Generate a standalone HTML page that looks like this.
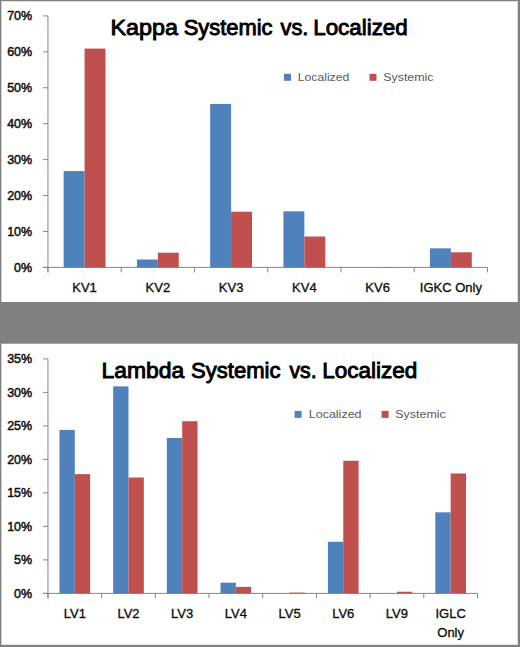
<!DOCTYPE html>
<html><head><meta charset="utf-8"><style>
html,body{margin:0;padding:0;background:#fff;}
body{width:520px;height:647px;overflow:hidden;position:relative;}
svg{position:absolute;left:0;top:0;}
text{font-family:"Liberation Sans",sans-serif;}
.lab{font-size:13px;font-weight:normal;fill:#111;stroke:#111;stroke-width:0.35px;}
.ylab{stroke-width:0.5px;}
.leg{font-size:11.5px;fill:#595959;}
.ttl{font-size:22px;font-weight:normal;fill:#000;stroke:#000;stroke-width:0.9px;}
</style></head><body>
<svg width="520" height="647" viewBox="0 0 520 647">
<rect x="0" y="0" width="520" height="647" fill="#fff"/>
<g>
<line x1="47.95" y1="15.9" x2="47.95" y2="272.4" stroke="#868686" stroke-width="1"/>
<line x1="42.95" y1="267.4" x2="47.95" y2="267.4" stroke="#868686" stroke-width="1"/>
<text transform="translate(32.1,271.7) scale(0.96,1)" text-anchor="end" class="lab ylab">0%</text>
<line x1="42.95" y1="231.47" x2="47.95" y2="231.47" stroke="#868686" stroke-width="1"/>
<text transform="translate(32.1,235.77) scale(0.96,1)" text-anchor="end" class="lab ylab">10%</text>
<line x1="42.95" y1="195.54" x2="47.95" y2="195.54" stroke="#868686" stroke-width="1"/>
<text transform="translate(32.1,199.84) scale(0.96,1)" text-anchor="end" class="lab ylab">20%</text>
<line x1="42.95" y1="159.61" x2="47.95" y2="159.61" stroke="#868686" stroke-width="1"/>
<text transform="translate(32.1,163.91) scale(0.96,1)" text-anchor="end" class="lab ylab">30%</text>
<line x1="42.95" y1="123.69" x2="47.95" y2="123.69" stroke="#868686" stroke-width="1"/>
<text transform="translate(32.1,127.99) scale(0.96,1)" text-anchor="end" class="lab ylab">40%</text>
<line x1="42.95" y1="87.76" x2="47.95" y2="87.76" stroke="#868686" stroke-width="1"/>
<text transform="translate(32.1,92.06) scale(0.96,1)" text-anchor="end" class="lab ylab">50%</text>
<line x1="42.95" y1="51.83" x2="47.95" y2="51.83" stroke="#868686" stroke-width="1"/>
<text transform="translate(32.1,56.13) scale(0.96,1)" text-anchor="end" class="lab ylab">60%</text>
<line x1="42.95" y1="15.9" x2="47.95" y2="15.9" stroke="#868686" stroke-width="1"/>
<text transform="translate(32.1,20.2) scale(0.96,1)" text-anchor="end" class="lab ylab">70%</text>
<line x1="42.95" y1="267.4" x2="487.5" y2="267.4" stroke="#868686" stroke-width="1"/>
<line x1="47.95" y1="267.4" x2="47.95" y2="272.4" stroke="#868686" stroke-width="1"/>
<line x1="121.21" y1="267.4" x2="121.21" y2="272.4" stroke="#868686" stroke-width="1"/>
<line x1="194.47" y1="267.4" x2="194.47" y2="272.4" stroke="#868686" stroke-width="1"/>
<line x1="267.73" y1="267.4" x2="267.73" y2="272.4" stroke="#868686" stroke-width="1"/>
<line x1="340.98" y1="267.4" x2="340.98" y2="272.4" stroke="#868686" stroke-width="1"/>
<line x1="414.24" y1="267.4" x2="414.24" y2="272.4" stroke="#868686" stroke-width="1"/>
<line x1="487.5" y1="267.4" x2="487.5" y2="272.4" stroke="#868686" stroke-width="1"/>
<rect x="63.65" y="171.11" width="20.93" height="96.29" fill="#4F81BD"/>
<rect x="84.58" y="48.59" width="20.93" height="218.8" fill="#C0504D"/>
<rect x="136.91" y="259.5" width="20.93" height="7.9" fill="#4F81BD"/>
<rect x="157.84" y="252.67" width="20.93" height="14.73" fill="#C0504D"/>
<rect x="210.16" y="103.92" width="20.93" height="163.47" fill="#4F81BD"/>
<rect x="231.1" y="211.71" width="20.93" height="55.69" fill="#C0504D"/>
<rect x="283.42" y="211.35" width="20.93" height="56.05" fill="#4F81BD"/>
<rect x="304.35" y="236.5" width="20.93" height="30.9" fill="#C0504D"/>
<rect x="377.61" y="267.04" width="20.93" height="0.36" fill="#C0504D"/>
<rect x="429.94" y="248.36" width="20.93" height="19.04" fill="#4F81BD"/>
<rect x="450.87" y="252.31" width="20.93" height="15.09" fill="#C0504D"/>
<text x="84.58" y="292" text-anchor="middle" class="lab">KV1</text>
<text x="157.84" y="292" text-anchor="middle" class="lab">KV2</text>
<text x="231.1" y="292" text-anchor="middle" class="lab">KV3</text>
<text x="304.35" y="292" text-anchor="middle" class="lab">KV4</text>
<text x="377.61" y="292" text-anchor="middle" class="lab">KV6</text>
<text x="450.87" y="292" text-anchor="middle" class="lab">IGKC Only</text>
<text x="110.42" y="34.9" class="ttl" textLength="67.57" lengthAdjust="spacingAndGlyphs">Kappa</text>
<text x="183.7" y="34.9" class="ttl" textLength="88.83" lengthAdjust="spacingAndGlyphs">Systemic</text>
<text x="280.5" y="34.9" class="ttl" textLength="27.9" lengthAdjust="spacingAndGlyphs">vs.</text>
<text x="313.28" y="34.9" class="ttl" textLength="94.39" lengthAdjust="spacingAndGlyphs">Localized</text>
<rect x="284" y="73.8" width="7" height="7" fill="#4F81BD"/>
<text x="297.85" y="80.8" class="leg" textLength="51.37" lengthAdjust="spacingAndGlyphs">Localized</text>
<rect x="369.5" y="73.8" width="7" height="7" fill="#C0504D"/>
<text x="383.26" y="80.8" class="leg" textLength="50.2" lengthAdjust="spacingAndGlyphs">Systemic</text>
<line x1="47.95" y1="358.9" x2="47.95" y2="598.4" stroke="#868686" stroke-width="1"/>
<line x1="42.95" y1="593.4" x2="47.95" y2="593.4" stroke="#868686" stroke-width="1"/>
<text transform="translate(32.1,597.7) scale(0.96,1)" text-anchor="end" class="lab ylab">0%</text>
<line x1="42.95" y1="559.9" x2="47.95" y2="559.9" stroke="#868686" stroke-width="1"/>
<text transform="translate(32.1,564.2) scale(0.96,1)" text-anchor="end" class="lab ylab">5%</text>
<line x1="42.95" y1="526.4" x2="47.95" y2="526.4" stroke="#868686" stroke-width="1"/>
<text transform="translate(32.1,530.7) scale(0.96,1)" text-anchor="end" class="lab ylab">10%</text>
<line x1="42.95" y1="492.9" x2="47.95" y2="492.9" stroke="#868686" stroke-width="1"/>
<text transform="translate(32.1,497.2) scale(0.96,1)" text-anchor="end" class="lab ylab">15%</text>
<line x1="42.95" y1="459.4" x2="47.95" y2="459.4" stroke="#868686" stroke-width="1"/>
<text transform="translate(32.1,463.7) scale(0.96,1)" text-anchor="end" class="lab ylab">20%</text>
<line x1="42.95" y1="425.9" x2="47.95" y2="425.9" stroke="#868686" stroke-width="1"/>
<text transform="translate(32.1,430.2) scale(0.96,1)" text-anchor="end" class="lab ylab">25%</text>
<line x1="42.95" y1="392.4" x2="47.95" y2="392.4" stroke="#868686" stroke-width="1"/>
<text transform="translate(32.1,396.7) scale(0.96,1)" text-anchor="end" class="lab ylab">30%</text>
<line x1="42.95" y1="358.9" x2="47.95" y2="358.9" stroke="#868686" stroke-width="1"/>
<text transform="translate(32.1,363.2) scale(0.96,1)" text-anchor="end" class="lab ylab">35%</text>
<line x1="42.95" y1="593.4" x2="477.5" y2="593.4" stroke="#868686" stroke-width="1"/>
<line x1="47.95" y1="593.4" x2="47.95" y2="598.4" stroke="#868686" stroke-width="1"/>
<line x1="101.64" y1="593.4" x2="101.64" y2="598.4" stroke="#868686" stroke-width="1"/>
<line x1="155.34" y1="593.4" x2="155.34" y2="598.4" stroke="#868686" stroke-width="1"/>
<line x1="209.03" y1="593.4" x2="209.03" y2="598.4" stroke="#868686" stroke-width="1"/>
<line x1="262.73" y1="593.4" x2="262.73" y2="598.4" stroke="#868686" stroke-width="1"/>
<line x1="316.42" y1="593.4" x2="316.42" y2="598.4" stroke="#868686" stroke-width="1"/>
<line x1="370.11" y1="593.4" x2="370.11" y2="598.4" stroke="#868686" stroke-width="1"/>
<line x1="423.81" y1="593.4" x2="423.81" y2="598.4" stroke="#868686" stroke-width="1"/>
<line x1="477.5" y1="593.4" x2="477.5" y2="598.4" stroke="#868686" stroke-width="1"/>
<rect x="59.46" y="429.92" width="15.34" height="163.48" fill="#4F81BD"/>
<rect x="74.8" y="474.14" width="15.34" height="119.26" fill="#C0504D"/>
<rect x="113.15" y="386.37" width="15.34" height="207.03" fill="#4F81BD"/>
<rect x="128.49" y="477.49" width="15.34" height="115.91" fill="#C0504D"/>
<rect x="166.84" y="437.96" width="15.34" height="155.44" fill="#4F81BD"/>
<rect x="182.18" y="421.21" width="15.34" height="172.19" fill="#C0504D"/>
<rect x="220.54" y="582.68" width="15.34" height="10.72" fill="#4F81BD"/>
<rect x="235.88" y="586.9" width="15.34" height="6.5" fill="#C0504D"/>
<rect x="289.57" y="592.6" width="15.34" height="0.8" fill="#C0504D"/>
<rect x="327.92" y="541.81" width="15.34" height="51.59" fill="#4F81BD"/>
<rect x="343.27" y="460.74" width="15.34" height="132.66" fill="#C0504D"/>
<rect x="396.96" y="591.73" width="15.34" height="1.68" fill="#C0504D"/>
<rect x="435.31" y="512.33" width="15.34" height="81.07" fill="#4F81BD"/>
<rect x="450.65" y="473.47" width="15.34" height="119.93" fill="#C0504D"/>
<text x="74.8" y="618.3" text-anchor="middle" class="lab">LV1</text>
<text x="128.49" y="618.3" text-anchor="middle" class="lab">LV2</text>
<text x="182.18" y="618.3" text-anchor="middle" class="lab">LV3</text>
<text x="235.88" y="618.3" text-anchor="middle" class="lab">LV4</text>
<text x="289.57" y="618.3" text-anchor="middle" class="lab">LV5</text>
<text x="343.27" y="618.3" text-anchor="middle" class="lab">LV6</text>
<text x="396.96" y="618.3" text-anchor="middle" class="lab">LV9</text>
<text x="450.65" y="618.3" text-anchor="middle" class="lab">IGLC</text>
<text x="450.65" y="637.1" text-anchor="middle" class="lab">Only</text>
<text x="101.45" y="377.7" class="ttl" textLength="82.84" lengthAdjust="spacingAndGlyphs">Lambda</text>
<text x="191" y="377.7" class="ttl" textLength="89.54" lengthAdjust="spacingAndGlyphs">Systemic</text>
<text x="289.48" y="377.7" class="ttl" textLength="27.18" lengthAdjust="spacingAndGlyphs">vs.</text>
<text x="322.27" y="377.7" class="ttl" textLength="95.1" lengthAdjust="spacingAndGlyphs">Localized</text>
<rect x="294.6" y="410.9" width="7" height="7" fill="#4F81BD"/>
<text x="308.72" y="418" class="leg" textLength="52.83" lengthAdjust="spacingAndGlyphs">Localized</text>
<rect x="381.6" y="410.9" width="7" height="7" fill="#C0504D"/>
<text x="395.26" y="418" class="leg" textLength="50.52" lengthAdjust="spacingAndGlyphs">Systemic</text>
</g>
<rect x="0" y="1" width="520" height="1" fill="#e4e4e4"/>
<rect x="1" y="0" width="1" height="647" fill="#d0d0d0"/>
<rect x="517" y="0" width="1" height="647" fill="#e0e0e0"/>
<rect x="0" y="644" width="520" height="1" fill="#e4e4e4"/>
<rect x="0" y="302" width="520" height="41.7" fill="#808080"/>
<rect x="0" y="0" width="520" height="1" fill="#808080"/>
<rect x="0" y="0" width="1" height="647" fill="#808080"/>
<rect x="518" y="0" width="2" height="647" fill="#808080"/>
<rect x="0" y="645" width="520" height="2" fill="#808080"/>
</svg>
</body></html>
